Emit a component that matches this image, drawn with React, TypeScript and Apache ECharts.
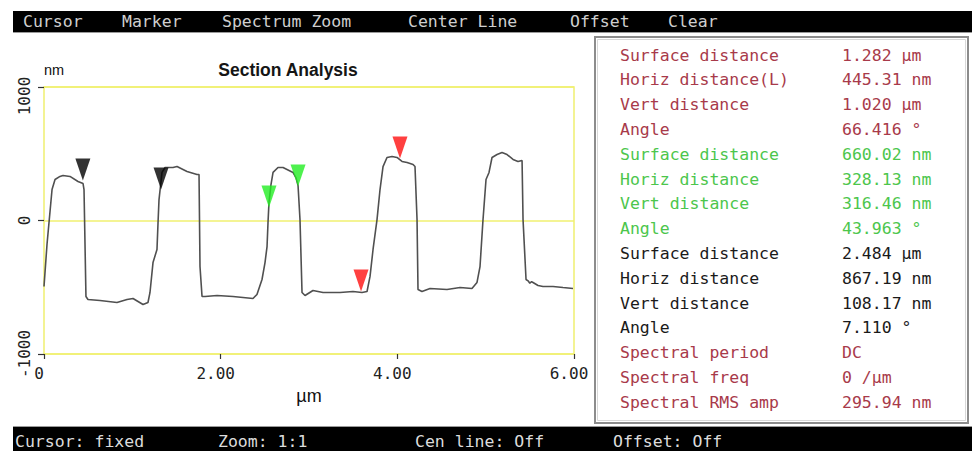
import React, { useEffect, useRef } from "react";
import * as echarts from "echarts";

// Section profile: distance (µm) and height (nm)
const distanceUm = [
  0.0, 0.034, 0.091, 0.125, 0.181, 0.215, 0.294, 0.385, 0.442, 0.453, 0.475, 0.498, 0.634, 0.826, 0.94,
  1.008, 1.121, 1.177, 1.2, 1.234, 1.279, 1.291, 1.302, 1.336, 1.37, 1.46, 1.506, 1.619, 1.732, 1.755,
  1.766, 1.789, 1.823, 1.959, 2.14, 2.366, 2.411, 2.468, 2.502, 2.525, 2.536, 2.547, 2.57, 2.593, 2.649,
  2.706, 2.819, 2.853, 2.876, 2.898, 2.921, 2.955, 3.045, 3.159, 3.351, 3.498, 3.6, 3.657, 3.691, 3.725,
  3.77, 3.804, 3.838, 3.883, 3.94, 3.996, 4.053, 4.11, 4.178, 4.2, 4.223, 4.234, 4.279, 4.37, 4.562,
  4.71, 4.845, 4.902, 4.936, 4.97, 5.004, 5.038, 5.072, 5.129, 5.185, 5.242, 5.31, 5.366, 5.412, 5.423,
  5.457, 5.48, 5.5, 5.52, 5.536, 5.593, 5.649, 5.763, 5.876, 5.989,
];
const heightNm = [
  -494, -180, 232, 307, 330, 337, 330, 292, 277, 232, -569, -592, -599, -614, -592,
  -584, -629, -614, -539, -315, -217, -15, 157, 360, 397, 397, 404, 367, 345, 345,
  -345, -569, -569, -562, -569, -584, -554, -442, -315, -195, -15, 135, 270, 360, 397,
  397, 360, 320, 262, 7, -539, -562, -524, -539, -539, -532, -539, -532, -419, -217,
  7, 232, 404, 472, 479, 472, 442, 434, 419, 404, 7, -517, -532, -509, -517,
  -502, -509, -464, -345, 7, 307, 360, 472, 494, 509, 494, 457, 442, 449, 7,
  -442, -452, -470, -458, -464, -487, -494, -494, -502, -509,
];

// Cursor markers (tip positions)
const blackMarkerX = [0.44, 1.325];
const blackMarkerY = [300, 232];
const greenMarkerX = [2.547, 2.876];
const greenMarkerY = [97, 255];
const redMarkerX = [3.589, 4.03];
const redMarkerY = [-532, 464];

// Axis ticks
const xTicks = [0, 2, 4, 6];
const yTicks = [-1000, 0, 1000];

// Menu / status texts
const menuLabels = ["Cursor", "Marker", "Spectrum Zoom", "Center Line", "Offset", "Clear"];
const menuX = [23, 122, 222, 408, 570, 668];
const statusLabels = ["Cursor: fixed", "Zoom: 1:1", "Cen line: Off", "Offset: Off"];
const statusX = [15, 218, 415, 613];

// Measurement panel
const panelLabels = [
  "Surface distance", "Horiz distance(L)", "Vert distance", "Angle",
  "Surface distance", "Horiz distance", "Vert distance", "Angle",
  "Surface distance", "Horiz distance", "Vert distance", "Angle",
  "Spectral period", "Spectral freq", "Spectral RMS amp",
];
const panelValues = [
  "1.282 µm", "445.31 nm", "1.020 µm", "66.416 °",
  "660.02 nm", "328.13 nm", "316.46 nm", "43.963 °",
  "2.484 µm", "867.19 nm", "108.17 nm", "7.110 °",
  "DC", "0 /µm", "295.94 nm",
];
const panelGroup = ["r", "r", "r", "r", "g", "g", "g", "g", "k", "k", "k", "k", "r", "r", "r"];

const MONO = "'DejaVu Sans Mono', 'Liberation Mono', monospace";
const SANS = "'Liberation Sans', Arial, sans-serif";
const YELLOW = "#f0f070";
const groupColor: Record<string, string> = { r: "#a83a4a", g: "#4cc64c", k: "#1a1a1a" };

const TRI = "path://M0 0 L10 0 L5 14 Z";

export default function App() {
  const ref = useRef<HTMLDivElement>(null);

  useEffect(() => {
    if (!ref.current) return;
    const chart = echarts.init(ref.current, undefined, { renderer: "svg" });

    const profile = distanceUm.map((x, i) => [x, heightNm[i]]);
    const zip = (xs: number[], ys: number[]) => xs.map((x, i) => [x, ys[i]]);

    const graphics: any[] = [];
    // top menu bar
    graphics.push({ type: "rect", shape: { x: 13, y: 11, width: 959, height: 21 }, style: { fill: "#000" }, silent: true });
    graphics.push({ type: "line", shape: { x1: 13, y1: 32.5, x2: 972, y2: 32.5 }, style: { stroke: "#9a9a9a", lineWidth: 1 }, silent: true });
    menuLabels.forEach((t, i) => {
      graphics.push({
        type: "text", x: menuX[i], y: 21.5,
        style: { text: t, fill: "#cfcfcf", font: `16.5px ${MONO}`, verticalAlign: "middle", align: "left" },
        silent: true,
      });
    });
    // bottom status bar
    graphics.push({ type: "line", shape: { x1: 13, y1: 426.5, x2: 972, y2: 426.5 }, style: { stroke: "#9a9a9a", lineWidth: 1 }, silent: true });
    graphics.push({ type: "rect", shape: { x: 13, y: 427, width: 959, height: 24 }, style: { fill: "#000" }, silent: true });
    statusLabels.forEach((t, i) => {
      graphics.push({
        type: "text", x: statusX[i], y: 441,
        style: { text: t, fill: "#dcdcdc", font: `16.5px ${MONO}`, verticalAlign: "middle", align: "left" },
        silent: true,
      });
    });
    // measurement panel
    graphics.push({ type: "rect", shape: { x: 595, y: 37, width: 373, height: 386 }, style: { fill: "#fff", stroke: "#8c8c8c", lineWidth: 2 }, silent: true });
    graphics.push({ type: "rect", shape: { x: 597.5, y: 39.5, width: 368, height: 381 }, style: { fill: "none", stroke: "#d8d8d8", lineWidth: 1 }, silent: true });
    panelLabels.forEach((t, i) => {
      const y = 55 + i * 24.8;
      const fill = groupColor[panelGroup[i]];
      graphics.push({
        type: "text", x: 620, y,
        style: { text: t, fill, font: `16.5px ${MONO}`, verticalAlign: "middle", align: "left" },
        silent: true,
      });
      graphics.push({
        type: "text", x: 842, y,
        style: { text: panelValues[i], fill, font: `16.5px ${MONO}`, verticalAlign: "middle", align: "left" },
        silent: true,
      });
    });

    chart.setOption({
      animation: false,
      backgroundColor: "#fff",
      title: {
        text: "Section Analysis",
        left: 288,
        top: 61,
        padding: 0,
        textAlign: "center",
        textStyle: { fontFamily: SANS, fontSize: 17.5, fontWeight: "bold", color: "#151515" },
      },
      grid: {
        left: 44,
        top: 87,
        width: 530,
        height: 267,
        show: true,
        borderColor: YELLOW,
        borderWidth: 1.5,
        backgroundColor: "transparent",
      },
      xAxis: {
        type: "value",
        min: 0,
        max: 6,
        interval: 2,
        name: "µm",
        nameLocation: "middle",
        nameGap: 33,
        nameTextStyle: { fontFamily: SANS, fontSize: 18, color: "#111" },
        axisLine: { show: false, onZero: false },
        axisTick: { show: true, length: 5, lineStyle: { color: "#333", width: 1.2 } },
        splitLine: { show: false },
        axisLabel: {
          margin: 11,
          fontFamily: MONO,
          fontSize: 16,
          color: "#222",
          padding: [0, 10, 0, 0],
          formatter: (v: number) => (xTicks.includes(v) && v === 0 ? "0" : v.toFixed(2)),
        },
      },
      yAxis: {
        type: "value",
        min: yTicks[0],
        max: yTicks[yTicks.length - 1],
        interval: 1000,
        name: "nm",
        nameLocation: "end",
        nameGap: 10,
        nameTextStyle: { fontFamily: SANS, fontSize: 14.5, color: "#111", align: "left" },
        axisLine: { show: false, onZero: false },
        axisTick: { show: true, length: 6, lineStyle: { color: "#333", width: 1.2 } },
        splitLine: { show: true, lineStyle: { color: YELLOW, width: 1.5 } },
        axisLabel: {
          rotate: 90,
          margin: 12,
          fontFamily: MONO,
          fontSize: 16,
          color: "#222",
          formatter: (v: number) => (v === yTicks[yTicks.length - 1] ? `{top|${v}}` : String(v)),
          rich: {
            top: { fontFamily: MONO, fontSize: 16, color: "#222", padding: [0, 18, 0, 0] },
          },
        },
      },
      series: [
        {
          type: "line",
          data: profile,
          showSymbol: false,
          symbol: "none",
          lineStyle: { color: "#505050", width: 1.6 },
          silent: true,
          z: 2,
        },
        {
          type: "scatter",
          data: zip(blackMarkerX, blackMarkerY),
          symbol: TRI,
          symbolSize: [15, 22],
          symbolOffset: [0, "-50%"],
          itemStyle: { color: "#000" },
          z: 3,
        },
        {
          type: "scatter",
          data: zip(greenMarkerX, greenMarkerY),
          symbol: TRI,
          symbolSize: [15, 22],
          symbolOffset: [0, "-50%"],
          itemStyle: { color: "#22ee22" },
          z: 3,
        },
        {
          type: "scatter",
          data: zip(redMarkerX, redMarkerY),
          symbol: TRI,
          symbolSize: [15, 22],
          symbolOffset: [0, "-50%"],
          itemStyle: { color: "#ff1010" },
          z: 3,
        },
      ],
      graphic: graphics,
    });

    return () => chart.dispose();
  }, []);

  return (
    <div
      ref={ref}
      style={{ position: "fixed", left: 0, top: 0, width: 972, height: 451, background: "#fff" }}
    />
  );
}
